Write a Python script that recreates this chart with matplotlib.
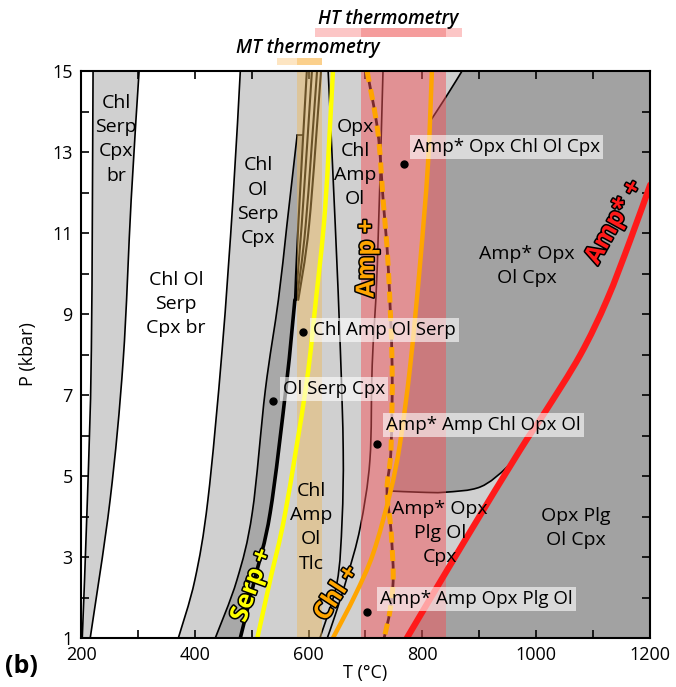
import matplotlib
matplotlib.use('Agg')
import matplotlib.pyplot as plt
import matplotlib.patheffects as pe
import matplotlib.transforms as mtransforms
from matplotlib.patches import Rectangle, PathPatch
from matplotlib.path import Path
import numpy as np

plt.rcParams['font.family'] = ['Open Sans', 'DejaVu Sans']

# === AXIS RANGE ===
T_MIN, T_MAX = 200, 1200
P_MIN, P_MAX = 1, 15

# === BOUNDARY CURVES (T degC, P kbar), listed from top to bottom ===
A_T = [221, 218, 211, 202]
A_P = [15, 8.11, 4.41, 1.0]
B_T = [302, 288, 274, 251, 216]
B_P = [15, 11.81, 7.86, 4.41, 1.0]
C_T = [480, 467, 448, 423, 400, 371]
C_P = [15, 11.81, 8.11, 4.41, 2.43, 1.0]
D_T = [580, 562, 547, 524, 501, 474, 436]
D_P = [13.42, 11.2, 9.35, 7.12, 4.09, 2.43, 1.0]
S_T = [590.5, 582, 576, 561, 532.5, 505, 480]      # serpentine-out (thick)
S_P = [13.42, 11.2, 9.35, 7.25, 4.09, 2.43, 1.0]
BROWN_T = [[597, 582, 576], [606, 588, 577], [615, 595, 579], [622, 601, 582]]
BROWN_P = [15, 11.2, 9.35]
E_T = [634.5, 647, 656, 661, 659, 650, 620]
E_P = [15, 11.2, 8.11, 5.64, 3.91, 2.36, 1.0]
F_T = [731, 721, 712, 708, 691, 668, 647, 633]
F_P = [15, 10.21, 7.74, 5.40, 3.74, 2.51, 1.57, 1.0]
I_T = [870, 844, 813]
I_P = [15, 14.41, 13.74]
J_T = [744, 796, 840, 902, 949, 975.5]
J_P = [4.63, 4.60, 4.60, 4.73, 5.22, 5.72]

# coloured reaction lines
SERP_T = [643, 629, 613, 596, 559, 532.5, 510]
SERP_P = [15, 11.57, 9.35, 7.25, 4.09, 2.43, 1.0]
CHL_T = [817, 810, 796, 779, 761, 743.5, 714, 682, 643]
CHL_P = [15, 12.68, 10.21, 7.74, 5.81, 4.58, 3.10, 2.06, 1.0]
AMP_T = [703, 722, 731, 740, 747, 745, 738, 745, 749, 743.5, 733]
AMP_P = [15, 13.49, 11.86, 10.21, 7.74, 5.64, 4.65, 3.67, 2.51, 1.69, 1.0]
AMPS_T = [773, 875.5, 972, 1016, 1078, 1125, 1166, 1201]
AMPS_P = [1.0, 3.42, 5.64, 6.58, 7.99, 9.35, 10.83, 12.19]

# thermometry ranges
MT_BAR = [545, 580, 624]
HT_BAR = [612, 692, 842, 870]

# sample points and boxed labels
DOT_T = [590.5, 537.7, 768, 720.7, 703]
DOT_P = [8.56, 6.85, 12.70, 5.79, 1.64]
BOX_LABELS = ['Chl Amp Ol Serp', 'Ol Serp Cpx', 'Amp* Opx Chl Ol Cpx',
              'Amp* Amp Chl Opx Ol', 'Amp* Amp Opx Plg Ol']
BOX_T = [608, 555, 784, 736.5, 726]
BOX_P = [8.60, 7.15, 13.12, 6.26, 1.96]

FIELD_LABELS = ['Chl\nSerp\nCpx\nbr', 'Chl Ol\nSerp\nCpx br', 'Chl\nOl\nSerp\nCpx',
                'Opx\nChl\nAmp\nOl', 'Chl\nAmp\nOl\nTlc', 'Amp* Opx\nOl Cpx',
                'Amp* Opx\nPlg Ol\nCpx', 'Opx Plg\nOl Cpx']
FIELD_T = [261.6, 367, 511, 682, 604.6, 984.5, 831.5, 1070.7]
FIELD_P = [13.32, 9.25, 11.77, 12.73, 3.74, 10.19, 3.59, 3.72]

REACT_LABELS = ['Serp +', 'Chl +', 'Amp +', 'Amp* +']
REACT_T = [500.8, 650, 703, 1138]
REACT_P = [2.31, 2.11, 10.38, 11.27]
REACT_ROT = [70, 57, 90, 61]
REACT_COL = ['#ffff00', '#ffa500', '#ffa500', '#ff1a1a']

LIGHT = '#d0d0d0'
DARK = '#a2a2a2'
PINK = (0.95, 0.33, 0.35)
TAN = (0.93, 0.72, 0.35)


def segs(T, P):
    """Catmull-Rom through the points, as bezier pieces."""
    pts = np.column_stack([T, P]).astype(float)
    ext = np.vstack([pts[0], pts, pts[-1]])
    verts, codes = [pts[0]], [Path.LINETO]
    for i in range(len(pts) - 1):
        p0, p1, p2, p3 = ext[i], ext[i + 1], ext[i + 2], ext[i + 3]
        verts += [p1 + (p2 - p0) / 6, p2 - (p3 - p1) / 6, p2]
        codes += [Path.CURVE4] * 3
    return verts, codes


def smooth_path(*pieces, closed=False):
    verts, codes = [], []
    for T, P in pieces:
        v, c = segs(T, P)
        verts += v
        codes += c
    codes[0] = Path.MOVETO
    if closed:
        verts.append(verts[0])
        codes.append(Path.CLOSEPOLY)
    return Path(verts, codes)


def fill(pieces, color, z=1):
    ax.add_patch(PathPatch(smooth_path(*pieces, closed=True), fc=color, ec='none', zorder=z))


def line(T, P, color='black', lw=1.2, z=2, **kw):
    ax.add_patch(PathPatch(smooth_path((T, P)), fill=False, ec=color, lw=lw,
                           zorder=z, capstyle='round', joinstyle='round', **kw))


fig = plt.figure(figsize=(6.76, 6.87), dpi=100)
ax = fig.add_axes([0.12, 0.0713, 0.841, 0.8253])
ax.set_xlim(T_MIN, T_MAX)
ax.set_ylim(P_MIN, P_MAX)
ax.set_facecolor(LIGHT)

# === FIELDS ===
fill([([T_MIN, A_T[0]], [P_MAX, P_MAX]), (A_T, A_P),
      ([A_T[-1], T_MIN], [P_MIN, P_MIN])], 'white')
fill([(B_T, B_P), ([B_T[-1], C_T[-1]], [P_MIN, P_MIN]),
      (C_T[::-1], C_P[::-1])], 'white')
fill([(D_T, D_P), ([D_T[-1], S_T[-1]], [P_MIN, P_MIN]),
      (S_T[::-1], S_P[::-1])], '#a8a8a8')

K_T, K_P = np.array(AMPS_T), np.array(AMPS_P)
G_T, G_P = np.array(CHL_T), np.array(CHL_P)
km = K_P < J_P[-1]
gm = (G_P > J_P[0]) & (G_P < I_P[-1])
fill([([I_T[0], T_MAX], [P_MAX, P_MAX]),
      ([T_MAX, T_MAX], [P_MAX, P_MIN]),
      ([T_MAX, K_T[0]], [P_MIN, P_MIN]),
      (list(K_T[km]) + [J_T[-1]], list(K_P[km]) + [J_P[-1]]),
      (J_T[::-1], J_P[::-1]),
      ([J_T[0]] + list(G_T[gm][::-1]) + [I_T[-1]], [J_P[0]] + list(G_P[gm][::-1]) + [I_P[-1]]),
      (I_T[::-1], I_P[::-1])], DARK)

# === BLACK BOUNDARIES ===
for tt, pp in [(A_T, A_P), (B_T, B_P), (C_T, C_P), (D_T, D_P), (E_T, E_P),
               (F_T, F_P), (I_T, I_P), (J_T, J_P)]:
    line(tt, pp)
line(D_T[:1] + S_T[:1], D_P[:1] + S_P[:1])
line(S_T[2:], S_P[2:], lw=2.6)
for bt in BROWN_T:
    line(bt, BROWN_P, lw=1.5)
line(AMP_T, AMP_P, lw=2)

# === THERMOMETRY OVERLAYS ===
ax.axvspan(HT_BAR[1], HT_BAR[2], color=PINK, alpha=0.5, lw=0, zorder=3)
ax.axvspan(MT_BAR[1], MT_BAR[2], color=TAN, alpha=0.45, lw=0, zorder=3)

# === COLOURED REACTIONS ===
line(SERP_T, SERP_P, color='#ffff00', lw=3.2, z=4)
line(CHL_T, CHL_P, color='#ffa500', lw=3.2, z=4)
ax.add_patch(PathPatch(smooth_path((AMP_T, AMP_P)), fill=False, ec='#ffa500',
                       lw=3.6, ls=(0, (2.2, 1.5)), zorder=4, capstyle='butt'))
line(AMPS_T, AMPS_P, color='#ff1a1a', lw=4.5, z=4)

ax.plot(DOT_T, DOT_P, 'o', color='black', ms=5, zorder=5)

for txt, t, p in zip(BOX_LABELS, BOX_T, BOX_P):
    ax.text(t, p, txt, ha='left', va='center', fontsize=13.5, zorder=6,
            bbox=dict(boxstyle='square,pad=0.15', fc='white', ec='none', alpha=0.6))
for txt, t, p in zip(FIELD_LABELS, FIELD_T, FIELD_P):
    ax.text(t, p, txt, ha='center', va='center', fontsize=14, linespacing=1.45, zorder=6)
for txt, t, p, r, c in zip(REACT_LABELS, REACT_T, REACT_P, REACT_ROT, REACT_COL):
    ax.text(t, p, txt, ha='center', va='center', rotation=r, color=c,
            fontsize=18, fontweight='bold', zorder=6,
            path_effects=[pe.withStroke(linewidth=2.2, foreground='black')])

# === THERMOMETRY BARS ABOVE THE PLOT ===
trans = mtransforms.blended_transform_factory(ax.transData, ax.transAxes)
mt_cols = ['#fde5c2', '#fbd08c']
for i, c in enumerate(mt_cols):
    ax.add_patch(Rectangle((MT_BAR[i], 1.0106), MT_BAR[i + 1] - MT_BAR[i], 0.0123,
                           transform=trans, fc=c, ec='none', clip_on=False))
ht_cols = ['#fcc6c6', '#f59c9c', '#fcc6c6']
for i, c in enumerate(ht_cols):
    ax.add_patch(Rectangle((HT_BAR[i], 1.06), HT_BAR[i + 1] - HT_BAR[i], 0.016,
                           transform=trans, fc=c, ec='none', clip_on=False))
ax.text(599, 1.0406, 'MT thermometry', transform=trans, ha='center', va='center',
        fontsize=13.5, style='italic', fontweight='semibold')
ax.text(740, 1.0917, 'HT thermometry', transform=trans, ha='center', va='center',
        fontsize=13.5, style='italic', fontweight='semibold')

# === AXES ===
ax.set_xticks(range(200, 1201, 200))
ax.set_xticks(range(200, 1201, 100), minor=True)
ax.set_yticks(range(1, 16, 2))
ax.set_yticks(range(1, 16), minor=True)
ax.tick_params(which='both', direction='in', top=True, right=True,
               length=6, width=1.2, labelsize=13, pad=6)
for s in ax.spines.values():
    s.set_linewidth(1.5)
    s.set_zorder(7)
ax.set_xlabel('T (°C)', fontsize=13, va='center')
ax.xaxis.set_label_coords(0.5, -0.062)
ax.set_ylabel('P (kbar)', fontsize=13, va='center')
ax.yaxis.set_label_coords(-0.093, 0.5)
fig.text(0.032, 0.03, '(b)', fontsize=18, fontweight='bold', ha='center', va='center')

fig.savefig('out.png', dpi=100)
